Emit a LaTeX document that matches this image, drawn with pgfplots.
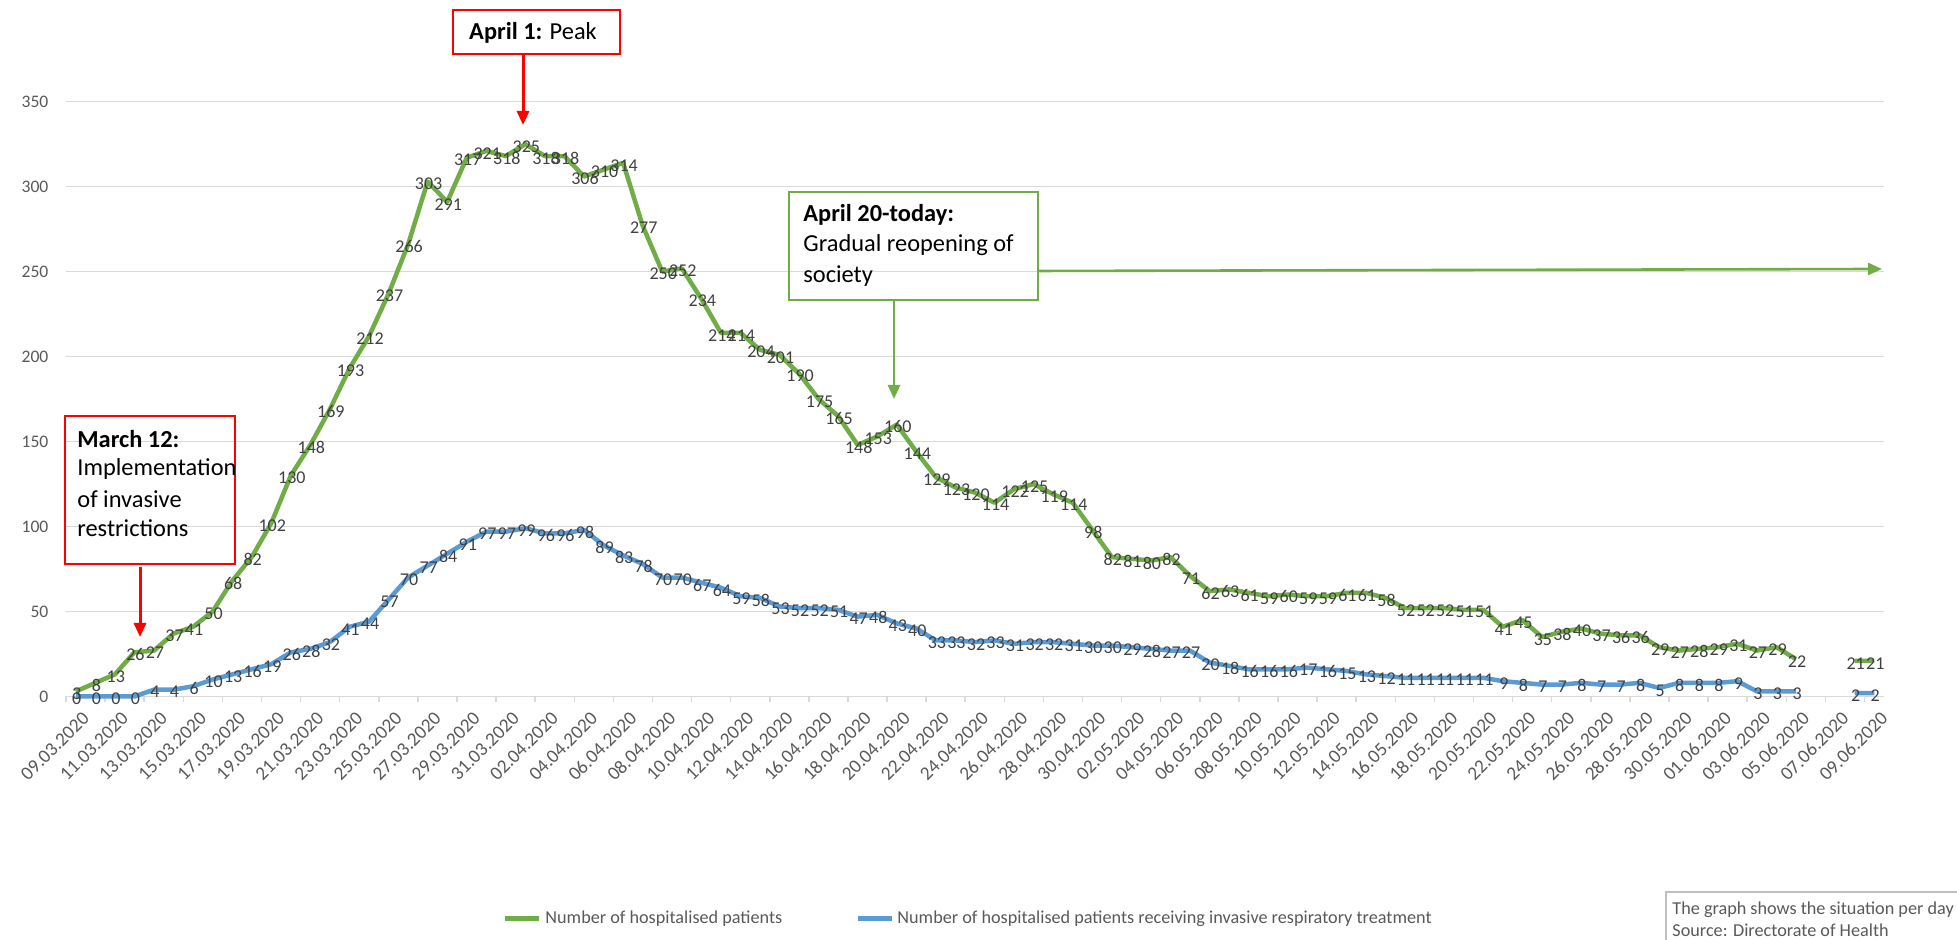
\documentclass[border=0pt]{standalone}
\usepackage{pgfplots}
\pgfplotsset{compat=1.18}
\usepackage{pgfplotstable}
\usepackage{fontspec}
\setmainfont{Carlito}
\usetikzlibrary{arrows.meta}
\definecolor{cgreen}{RGB}{112,173,71}
\definecolor{cblue}{RGB}{91,155,213}
\definecolor{lbl}{RGB}{64,64,64}
\definecolor{axt}{RGB}{89,89,89}
\definecolor{gridc}{RGB}{217,217,217}
\definecolor{boxg}{RGB}{191,191,191}

\pgfplotstableread{
i g b
0 3 0
1 8 0
2 13 0
3 26 0
4 27 4
5 37 4
6 41 6
7 50 10
8 68 13
9 82 16
10 102 19
11 130 26
12 148 28
13 169 32
14 193 41
15 212 44
16 237 57
17 266 70
18 303 77
19 291 84
20 317 91
21 321 97
22 318 97
23 325 99
24 318 96
25 318 96
26 306 98
27 310 89
28 314 83
29 277 78
30 250 70
31 252 70
32 234 67
33 214 64
34 214 59
35 204 58
36 201 53
37 190 52
38 175 52
39 165 51
40 148 47
41 153 48
42 160 43
43 144 40
44 129 33
45 123 33
46 120 32
47 114 33
48 122 31
49 125 32
50 119 32
51 114 31
52 98 30
53 82 30
54 81 29
55 80 28
56 82 27
57 71 27
58 62 20
59 63 18
60 61 16
61 59 16
62 60 16
63 59 17
64 59 16
65 61 15
66 61 13
67 58 12
68 52 11
69 52 11
70 52 11
71 51 11
72 51 11
73 41 9
74 45 8
75 35 7
76 38 7
77 40 8
78 37 7
79 36 7
80 36 8
81 29 5
82 27 8
83 28 8
84 29 8
85 31 9
86 27 3
87 29 3
88 22 3
89 nan nan
90 nan nan
91 21 2
92 21 2
}\data

\newcommand{\lblfont}{\fontsize{9bp}{10bp}\selectfont}
\newcommand{\tickfont}{\fontsize{8.8bp}{10bp}\selectfont}
\newcommand{\legfont}{\fontsize{9.1bp}{10bp}\selectfont}
\newcommand{\annfont}{\fontsize{12.2bp}{14bp}\selectfont}

\begin{document}
\begin{tikzpicture}[x=1bp,y=1bp]
\useasboundingbox (0,0) rectangle (978.5,470);
\begin{axis}[
  at={(33bp,121.75bp)}, anchor=south west,
  scale only axis, width=909bp, height=297.4bp,
  xmin=-0.5, xmax=92.5, ymin=0, ymax=350,
  separate axis lines,
  axis x line*=bottom, axis y line*=left,
  x axis line style={draw=gridc, line width=0.75bp},
  y axis line style={draw=none},
  ytick={0,50,...,350},
  ymajorgrids, grid style={draw=gridc, line width=0.75bp},
  major tick length=0pt,
  yticklabel style={font=\tickfont, text=axt, inner sep=0pt, xshift=-8.6bp},
  xtick={0,2,...,92},
  xticklabels={09.03.2020,11.03.2020,13.03.2020,15.03.2020,17.03.2020,19.03.2020,21.03.2020,23.03.2020,25.03.2020,27.03.2020,29.03.2020,31.03.2020,02.04.2020,04.04.2020,06.04.2020,08.04.2020,10.04.2020,12.04.2020,14.04.2020,16.04.2020,18.04.2020,20.04.2020,22.04.2020,24.04.2020,26.04.2020,28.04.2020,30.04.2020,02.05.2020,04.05.2020,06.05.2020,08.05.2020,10.05.2020,12.05.2020,14.05.2020,16.05.2020,18.05.2020,20.05.2020,22.05.2020,24.05.2020,26.05.2020,28.05.2020,30.05.2020,01.06.2020,03.06.2020,05.06.2020,07.06.2020,09.06.2020},
  xticklabel style={font=\fontsize{9.6bp}{11bp}\selectfont, text=axt, inner sep=0.5bp, xshift=5.5bp, yshift=-9bp, rotate=45, anchor=east},
  extra x ticks={-0.5,1.5,...,91.5},
  extra x tick labels={},
  extra x tick style={major tick length=3bp, tick align=outside, tick style={draw=gridc, line width=0.75bp}},
  unbounded coords=jump,
  clip=false,
  /pgf/number format/assume math mode=true,
  every node near coord/.append style={anchor=center, font=\lblfont, text=lbl, inner sep=0pt, xshift=0.5bp, yshift=-1.2bp},
]
\addplot[cgreen, line width=2.25bp, line join=round, nodes near coords] table[x=i, y=g] {\data};
\addplot[cblue, line width=2.25bp, line join=round, nodes near coords] table[x=i, y=b] {\data};
\end{axis}

% annotations
\draw[red, line width=0.75bp] (32.5,262) rectangle (117.5,188);
\node[anchor=west, inner sep=0pt, font=\annfont] at (38.5,250.5) {\textbf{March 12:}};
\node[anchor=west, inner sep=0pt, font=\annfont] at (38.5,235.5) {Implementation};
\node[anchor=west, inner sep=0pt, font=\annfont] at (38.5,220.5) {of invasive};
\node[anchor=west, inner sep=0pt, font=\annfont] at (38.5,206) {restrictions};
\draw[red, line width=1.5bp, -{Triangle[length=7bp,width=6bp]}] (70,186.5) -- (70,151.5);

\draw[red, line width=0.75bp] (226.5,465) rectangle (310,443);
\node[inner sep=0pt, font=\annfont] at (266.5,453.5) {\textbf{April 1:} Peak};
\draw[red, line width=1.5bp, -{Triangle[length=7bp,width=6bp]}] (261.5,443) -- (261.5,407.5);

\draw[cgreen, line width=0.75bp] (394.5,374) rectangle (519,320);
\node[anchor=west, inner sep=0pt, font=\annfont] at (401.5,362.5) {\textbf{April 20-today:}};
\node[anchor=west, inner sep=0pt, font=\annfont] at (401.5,347.5) {Gradual reopening of};
\node[anchor=west, inner sep=0pt, font=\annfont] at (401.5,332) {society};
\draw[cgreen, line width=1.3bp, -{Triangle[length=7bp,width=6bp]}] (447,320) -- (447,270.5);
\draw[cgreen, line width=1.3bp, -{Triangle[length=7bp,width=6bp]}] (519,334.5) -- (941,335.5);

% legend
\draw[cgreen, line width=2.25bp] (252.5,10.75) -- (269.5,10.75);
\node[anchor=west, inner sep=0pt, font=\legfont, text=axt] at (272.5,10.75) {Number of hospitalised patients};
\draw[cblue, line width=2.25bp] (429,10.75) -- (446,10.75);
\node[anchor=west, inner sep=0pt, font=\legfont, text=axt] at (448.5,10.75) {Number of hospitalised patients receiving invasive respiratory treatment};

% source box
\draw[boxg, line width=0.6bp] (833,-5) -- (833,24) -- (985,24);
\node[anchor=west, inner sep=0pt, font=\legfont, text=axt] at (836,15) {The graph shows the situation per day};
\node[anchor=west, inner sep=0pt, font=\legfont, text=axt] at (836,5) {Source: Directorate of Health};
\end{tikzpicture}
\end{document}
